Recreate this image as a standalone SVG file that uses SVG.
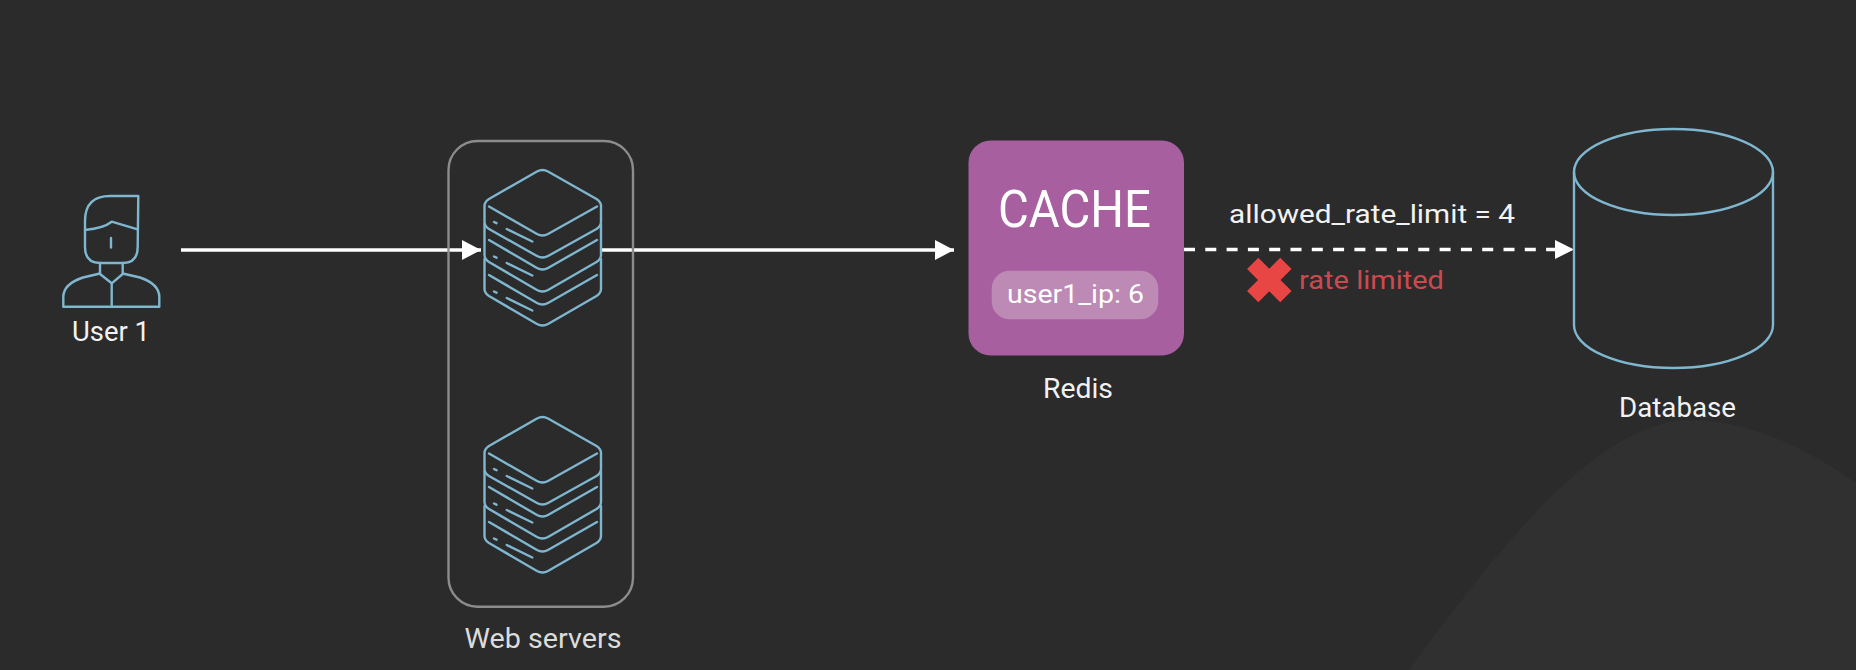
<svg xmlns="http://www.w3.org/2000/svg" xmlns:xlink="http://www.w3.org/1999/xlink" width="1856" height="670" viewBox="0 0 1856 670">
<style>
.ic{fill:none;stroke:#7fb6d0;stroke-width:2.4;stroke-linejoin:round;stroke-linecap:round}
.lb{font-family:Roboto,"Liberation Sans",sans-serif;fill:#f2f2f2}
.ln{fill:none;stroke:#fff;stroke-width:3.4}
</style>
<defs>
<marker id="ah" markerUnits="userSpaceOnUse" markerWidth="20" markerHeight="20" refX="19" refY="10" orient="auto"><path d="M0 0L19 10L0 20Z" fill="#fff"/></marker>
<g id="srv" class="ic">
<path d="M537 171.5Q542.5 168.5 548 171.5L596.5 199Q601 202 601 206V222Q601 226 596.5 229L548 256Q542.5 259 537 256L489 229Q484.5 226 484.5 222V206Q484.5 202 489 199Z"/>
<path d="M489 206.500L537 234Q542.500 237 548 234L597 206.500"/>
<path d="M484.500 224V255Q484.500 259 489 262L537 290Q542.500 293 548 290L596.500 262Q601 259 601 255V224"/>
<path d="M489 240L537 268Q542.500 271 548 268L597 240"/>
<path d="M484.500 259V289Q484.500 293 489 296L537 324Q542.500 327 548 324L596.500 296Q601 293 601 289V259"/>
<path d="M489 275L537 303Q542.500 306 548 303L597 275"/>
<path d="M494 222L496.500 223.200M506.700 229L532.300 241.500M494 256.500L496.500 257.700M506.700 263L532.300 275.500M494 291.500L496.500 292.700M506.700 298L532.300 310.500"/>
</g>
</defs>
<rect id="background" width="1856" height="670" fill="#2b2b2b"/>
<path id="backdrop" d="M1409 670C1480 575 1590 420 1690 420C1750 420 1810 450 1856 483V670Z" fill="#303030"/>
<g id="connectors">
<path class="ln" d="M181 250H481" marker-end="url(#ah)"/>
<path class="ln" d="M600 250H954" marker-end="url(#ah)"/>
<path class="ln" d="M1184 249.500H1556" stroke-dasharray="11 10.300"/>
<path d="M1555 240L1574 249.500L1555 259Z" fill="#fff"/>
</g>
<g id="user1">
<g class="ic">
<path d="M138.300 196H110Q85 196 85 221V247Q85 263 100 263H123Q137.700 263 137.700 247Z"/>
<path d="M85 230Q104 228 111.700 221.700L137.700 229.300"/>
<path d="M111 238V247.500"/>
<path d="M100 263V274L111.700 283.300L122.700 274V263"/>
<path d="M100 273.500L83 277.500Q63.300 284 63.300 297V306.700H159.300V297Q159.300 284 140 277.500L122.700 273.500"/>
<path d="M111.700 283.300V306.700"/>
</g>
<text class="lb" x="111" y="341" font-size="27" text-anchor="middle" textLength="78" lengthAdjust="spacingAndGlyphs">User 1</text>
</g>
<g id="web-servers">
<rect x="448.500" y="141" width="184.500" height="465.700" rx="29" fill="none" stroke="#8c8c8c" stroke-width="2.400"/>
<use xlink:href="#srv" href="#srv"/>
<use xlink:href="#srv" href="#srv" y="247"/>
<text class="lb" x="543" y="648.300" font-size="27" text-anchor="middle" textLength="157" lengthAdjust="spacingAndGlyphs" style="fill:#dcdcdc">Web servers</text>
</g>
<g id="cache">
<rect x="968.500" y="140.500" width="215.500" height="215" rx="22" fill="#a75f9f"/>
<rect x="991.700" y="270.700" width="166.600" height="48.600" rx="18" fill="#bd8ab5"/>
<text class="lb" x="1074.500" y="226.700" font-size="51" text-anchor="middle" textLength="153" lengthAdjust="spacingAndGlyphs" style="fill:#fff">CACHE</text>
<text class="lb" x="1075.500" y="303.300" font-size="25" text-anchor="middle" textLength="137" lengthAdjust="spacingAndGlyphs" style="fill:#fff">user1_ip: 6</text>
<text class="lb" x="1078" y="398.300" font-size="28" text-anchor="middle" textLength="70" lengthAdjust="spacingAndGlyphs">Redis</text>
</g>
<g id="rate-limit">
<text class="lb" x="1372" y="223.300" font-size="26" text-anchor="middle" textLength="286" lengthAdjust="spacingAndGlyphs">allowed_rate_limit = 4</text>
<path d="M1252.700 263.400L1285.900 296.600M1285.900 263.400L1252.700 296.600" fill="none" stroke="#e84545" stroke-width="16"/>
<text x="1371.500" y="289" font-family="Roboto,'Liberation Sans',sans-serif" font-size="26" text-anchor="middle" textLength="145" lengthAdjust="spacingAndGlyphs" fill="#cb4a50">rate limited</text>
</g>
<g id="database">
<ellipse class="ic" cx="1673.500" cy="172" rx="99.500" ry="43"/>
<path class="ic" d="M1574 172V325A99.500 43 0 0 0 1773 325V172"/>
<text class="lb" x="1677.500" y="417.300" font-size="28" text-anchor="middle" textLength="117" lengthAdjust="spacingAndGlyphs">Database</text>
</g>
</svg>
